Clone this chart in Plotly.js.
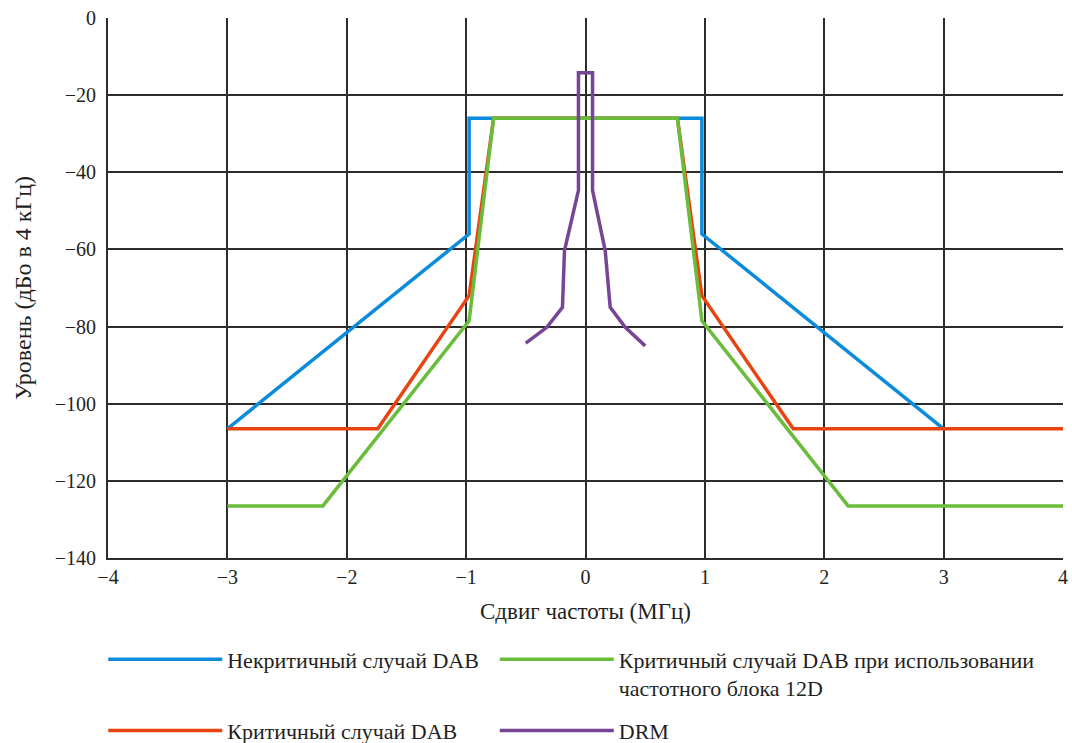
<!DOCTYPE html>
<html>
<head>
<meta charset="utf-8">
<script src="https://cdn.plot.ly/plotly-3.0.1.min.js"></script>
<style>html,body{margin:0;padding:0;background:#fff;}#chart{width:1072px;height:743px;}</style>
</head>
<body>
<div id="chart"></div>
<script>
// Некритичный случай DAB
const blueX = [-3, -0.975, -0.975, 0.975, 0.975, 3];
const blueY = [-106.5, -56, -26, -26, -56, -106.5];
// Критичный случай DAB
const redX = [-3, -1.74, -0.975, -0.77, 0.77, 0.975, 1.74, 4];
const redY = [-106.5, -106.5, -72, -26, -26, -72, -106.5, -106.5];
// Критичный случай DAB при использовании частотного блока 12D
const greenX = [-3, -2.2, -0.975, -0.77, 0.77, 0.975, 2.2, 4];
const greenY = [-126.5, -126.5, -78.5, -26, -26, -78.5, -126.5, -126.5];
// DRM
const drmX = [-0.5, -0.324, -0.193, -0.176, -0.059, -0.059, 0.059, 0.059, 0.165, 0.207, 0.333, 0.5];
const drmY = [-84.3, -80.2, -75, -60.3, -44.7, -14.2, -14.2, -44.7, -60.3, -75, -80.2, -85];

const names = [
  'Некритичный случай DAB',
  'Критичный случай DAB',
  'Критичный случай DAB при использовании<br>частотного блока 12D',
  'DRM'
];
const xTitle = 'Сдвиг частоты (МГц)';
const yTitle = 'Уровень (дБо в 4 кГц)';

const font = "'Liberation Serif', 'Times New Roman', serif";
const W = 3.5;

const traces = [
  {x: blueX, y: blueY, name: names[0], legend: 'legend', line: {color: '#0a8bdb', width: W}},
  {x: redX, y: redY, name: names[1], legend: 'legend3', line: {color: '#e9440f', width: W}},
  {x: greenX, y: greenY, name: names[2], legend: 'legend2', line: {color: '#6abd3a', width: W}},
  {x: drmX, y: drmY, name: names[3], legend: 'legend4', line: {color: '#774593', width: W}}
].map(t => Object.assign({type: 'scatter', mode: 'lines', hoverinfo: 'skip'}, t));

const gridColor = '#2e2b2c';
const legendBase = {
  xanchor: 'left', yanchor: 'top',
  itemwidth: 114,
  valign: 'top',
  font: {family: font, size: 22, color: '#231f20'},
  bgcolor: 'rgba(0,0,0,0)'
};
const colLeft = -0.005, colRight = 0.405, rowTop = -0.149, rowBottom = -0.281;
const layout = {
  width: 1072, height: 743,
  margin: {l: 108, r: 9, t: 18, b: 185, autoexpand: false},
  paper_bgcolor: '#fff', plot_bgcolor: '#fff',
  font: {family: font, size: 18, color: '#231f20'},
  showlegend: true,
  xaxis: {
    range: [-4, 4], dtick: 1, tick0: 0,
    showgrid: true, gridcolor: gridColor, gridwidth: 2,
    zeroline: false, showline: true, linecolor: gridColor, linewidth: 2,
    ticks: 'inside', ticklen: 7, tickcolor: gridColor, tickwidth: 2,
    tickfont: {family: font, size: 20},
    automargin: false,
    title: {text: xTitle, font: {family: font, size: 23}, standoff: 16}
  },
  yaxis: {
    range: [-140, 0], dtick: 20, tick0: 0,
    showgrid: true, gridcolor: gridColor, gridwidth: 2,
    zeroline: false, showline: true, linecolor: gridColor, linewidth: 2,
    ticks: 'inside', ticklen: 7, tickcolor: gridColor, tickwidth: 2,
    ticklabelstandoff: 6,
    tickfont: {family: font, size: 20},
    automargin: false,
    title: {text: yTitle, font: {family: font, size: 24}, standoff: 16}
  },
  legend: Object.assign({}, legendBase, {x: colLeft, y: rowTop}),
  legend2: Object.assign({}, legendBase, {x: colRight, y: rowTop}),
  legend3: Object.assign({}, legendBase, {x: colLeft, y: rowBottom}),
  legend4: Object.assign({}, legendBase, {x: colRight, y: rowBottom})
};

Plotly.newPlot('chart', traces, layout, {displayModeBar: false});
</script>
</body>
</html>
